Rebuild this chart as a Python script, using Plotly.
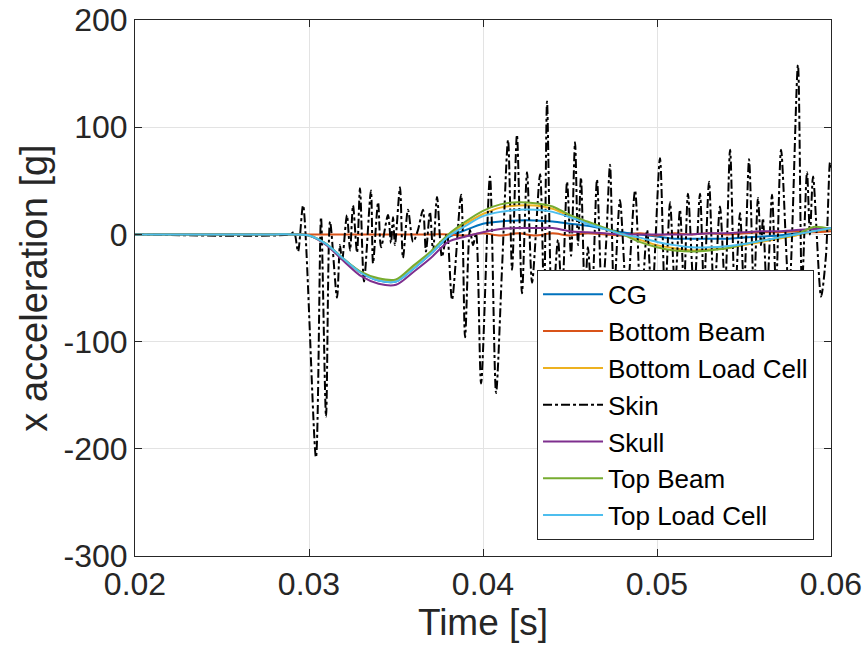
import plotly.graph_objects as go

# smooth channels: time [s] and accelerations [g]
t_smooth = [0.020, 0.028, 0.029, 0.030, 0.031, 0.032, 0.033, 0.034, 0.035, 0.036, 0.037, 0.038,
            0.039, 0.040, 0.041, 0.042, 0.043, 0.044, 0.045, 0.046, 0.047, 0.048, 0.049, 0.050,
            0.051, 0.052, 0.053, 0.054, 0.055, 0.056, 0.057, 0.058, 0.059, 0.060]
cg = [0, 0, 0, -1, -9, -23, -36, -43, -44, -32, -18, -3,
      4, 10, 12, 13, 13, 12, 10, 8, 5, 2, 0, -2,
      -4, -4, -4, -4, -3, -2, -1, 1, 3, 5]
bottom_beam = [0, 0, 0, 0, 0, 0, 0, 0, 0, 0, 0, 0,
               -1, 1, -1, 1, -1, 1, -1, 1, 0, -1, 1, -1,
               1, 0, 1, 0, 1, 2, 2, 3, 2, 3]
bottom_load_cell = [0, 0, 0, -1, -9, -23, -36, -42, -43, -30, -17, -1,
                    10, 19, 25, 27, 27, 24, 17, 11, 5, 0, -5, -10,
                    -13, -15, -14, -13, -10, -7, -4, -1, 3, 5]
skull = [0, 0, 0, -1, -10, -25, -39, -46, -47, -35, -22, -7,
         -2, 2, 5, 6, 6, 6, 3, 2, 1, 0, 0, 0,
         0, 0, 1, 1, 2, 3, 3, 4, 5, 6]
top_beam = [0, 0, 0, -1, -9, -23, -35, -41, -42, -29, -16, 0,
            12, 22, 28, 30, 29, 26, 18, 12, 6, 0, -7, -12,
            -15, -16, -15, -13, -9, -6, -3, 0, 7, 5]
top_load_cell = [0, 0, 0, -1, -9, -23, -36, -43, -44, -32, -18, -2,
                 8, 17, 21, 23, 23, 21, 16, 10, 5, 0, -3, -7,
                 -10, -12, -12, -11, -9, -6, -3, 0, 3, 6]

# skin channel (extrema)
skin_t = [0.02000, 0.02891, 0.02914, 0.02937, 0.02966, 0.03040, 0.03069, 0.03098, 0.03121, 0.03161,
          0.03178, 0.03190, 0.03218, 0.03236, 0.03253, 0.03276, 0.03293, 0.03316, 0.03356, 0.03368,
          0.03397, 0.03414, 0.03454, 0.03471, 0.03483, 0.03494, 0.03523, 0.03540, 0.03569, 0.03598,
          0.03626, 0.03655, 0.03672, 0.03695, 0.03713, 0.03736, 0.03764, 0.03793, 0.03822, 0.03874,
          0.03897, 0.03925, 0.03943, 0.03960, 0.03989, 0.04040, 0.04075, 0.04109, 0.04144, 0.04167,
          0.04195, 0.04224, 0.04253, 0.04282, 0.04328, 0.04351, 0.04368, 0.04397, 0.04431, 0.04454,
          0.04483, 0.04506, 0.04529, 0.04546, 0.04563, 0.04586, 0.04603, 0.04626, 0.04655, 0.04684,
          0.04707, 0.04730, 0.04753, 0.04787, 0.04827, 0.04874, 0.04908, 0.04943, 0.04971, 0.05017,
          0.05046, 0.05075, 0.05103, 0.05132, 0.05155, 0.05178, 0.05213, 0.05247, 0.05270, 0.05299,
          0.05328, 0.05362, 0.05391, 0.05420, 0.05448, 0.05477, 0.05500, 0.05529, 0.05557, 0.05580,
          0.05598, 0.05609, 0.05632, 0.05661, 0.05684, 0.05713, 0.05759, 0.05810, 0.05833, 0.05862,
          0.05879, 0.05897, 0.05943, 0.05971, 0.05994, 0.06000]
skin = [0, 0, 2, -16, 27, -208, 16, -170, 12, -59,
        -10, -25, 18, -15, 27, -17, 43, -44, 41, -27,
        30, -12, 18, -8, 16, -10, 44, -22, 23, -7,
        4, 23, -16, 21, -16, 35, -21, 1, -61, 37,
        -96, 4, -10, 1, -139, 54, -148, -33, 88, -33,
        93, -55, 58, -45, 56, -65, 124, -75, -5, -60,
        49, -20, 86, -10, 53, -60, -12, -60, 51, -60,
        -10, 65, -55, 32, -60, 41, -70, 4, -60, 71,
        -60, 30, -50, 23, -50, 38, -55, 38, -50, 49,
        -60, 26, -50, 79, -60, 20, -50, 70, -55, 34,
        -10, 15, -55, 37, -50, 79, -55, 158, -50, 58,
        0, 54, -58, -20, 67, 60]

x_ticks = [0.02, 0.03, 0.04, 0.05, 0.06]
x_tick_labels = ["0.02", "0.03", "0.04", "0.05", "0.06"]
y_ticks = [-300, -200, -100, 0, 100, 200]
y_tick_labels = ["-300", "-200", "-100", "0", "100", "200"]

series = [
    ("CG", t_smooth, cg, "#0072BD", "solid", 2),
    ("Bottom Beam", t_smooth, bottom_beam, "#D95319", "solid", 2),
    ("Bottom Load Cell", t_smooth, bottom_load_cell, "#EDB120", "solid", 2),
    ("Skin", skin_t, skin, "#000000", "dashdot", 2),
    ("Skull", t_smooth, skull, "#7E2F8E", "solid", 2),
    ("Top Beam", t_smooth, top_beam, "#77AC30", "solid", 2),
    ("Top Load Cell", t_smooth, top_load_cell, "#4DBEEE", "solid", 2),
]

fig = go.Figure()
for name, xs, ys, col, dash, w in series:
    fig.add_trace(go.Scatter(
        x=xs, y=ys, mode="lines", name=name,
        line=dict(color=col, dash=dash, width=w, shape="spline", smoothing=0.8),
    ))

FONT = "Liberation Sans, Arial, Helvetica, sans-serif"
axis_common = dict(
    showline=True, linecolor="#262626", linewidth=1, mirror="ticks",
    ticks="inside", ticklen=7, tickcolor="#262626", automargin=False,
    ticklabeloverflow="allow",
    showgrid=True, gridcolor="#e3e3e3", gridwidth=1, zeroline=False,
    tickfont=dict(family=FONT, size=32, color="#262626"),
)

fig.update_layout(
    width=867, height=659,
    margin=dict(l=135, r=36, t=20, b=103),
    paper_bgcolor="white", plot_bgcolor="white",
    font=dict(family=FONT, color="#262626"),
    xaxis=dict(range=[0.02, 0.06], tickvals=x_ticks, ticktext=x_tick_labels,
               title=dict(text="Time [s]", font=dict(size=37), standoff=6), **axis_common),
    yaxis=dict(range=[-300, 200], tickvals=y_ticks, ticktext=y_tick_labels,
               title=dict(text="x acceleration [g]", font=dict(size=38), standoff=4), **axis_common),
    legend=dict(
        x=0.9756, y=0.03, xanchor="right", yanchor="bottom",
        bgcolor="white", bordercolor="#262626", borderwidth=1,
        font=dict(size=26, color="#000000"),
        itemwidth=60,
    ),
    showlegend=True,
)

# remove the default page margin so the figure fills the window exactly
fig.write_html("out.html", config={"displayModeBar": False},
               post_script="document.body.style.margin='0px';")
